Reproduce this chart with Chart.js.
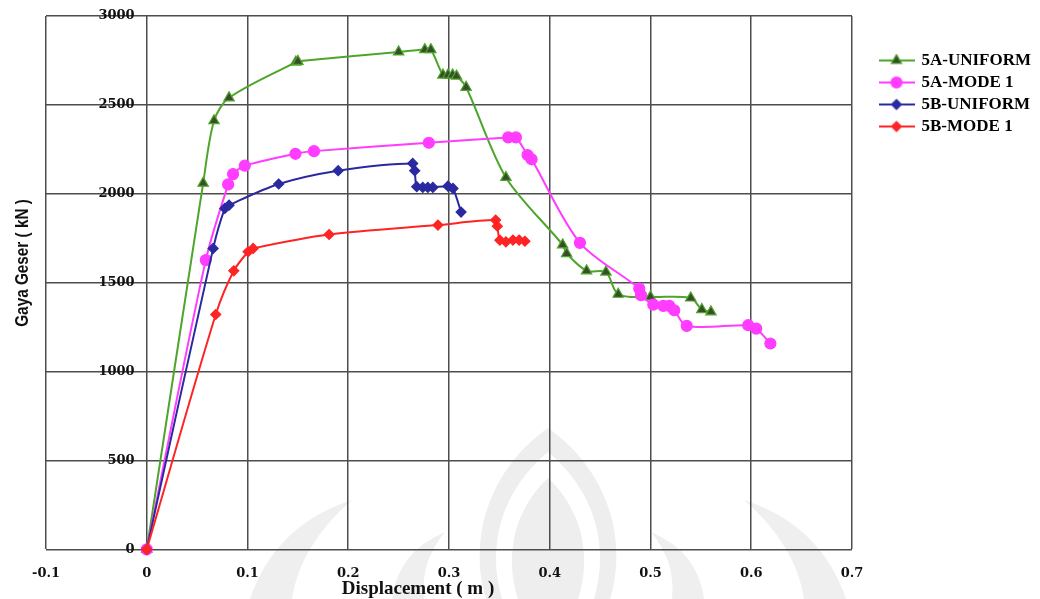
<!DOCTYPE html>
<html>
<head>
<meta charset="utf-8">
<script src="https://cdn.jsdelivr.net/npm/chart.js@4/dist/chart.umd.min.js"></script>
<style>
  html, body { margin: 0; padding: 0; background: #ffffff; }
  #wrap { width: 1040px; height: 599px; }
</style>
</head>
<body>
<div id="wrap"><canvas id="c" width="1040" height="599"></canvas></div>
<script>
// Series names
const seriesNames = ['5A-UNIFORM', '5A-MODE 1', '5B-UNIFORM', '5B-MODE 1'];

// 5A-UNIFORM : displacement (m) / shear force (kN)
const dispA_uniform  = [0, 0.056, 0.0668, 0.0817, 0.148, 0.150, 0.250, 0.276, 0.282, 0.294, 0.299, 0.3036, 0.3075, 0.317, 0.3565, 0.4128, 0.4168, 0.4366, 0.4558, 0.468, 0.500, 0.540, 0.551, 0.560];
const forceA_uniform = [0, 2060, 2411, 2540, 2741, 2745, 2798, 2811, 2811, 2668, 2668, 2668, 2662, 2599, 2092, 1713, 1664, 1567, 1560, 1435, 1420, 1414, 1349, 1336];

// 5A-MODE 1
const dispA_mode1  = [0, 0.0586, 0.0808, 0.0857, 0.0973, 0.1476, 0.166, 0.280, 0.3588, 0.3664, 0.378, 0.382, 0.430, 0.4889, 0.4906, 0.5028, 0.5127, 0.5187, 0.5236, 0.536, 0.597, 0.605, 0.619];
const forceA_mode1 = [0, 1627, 2053, 2111, 2158, 2225, 2240, 2287, 2317, 2317, 2218, 2194, 1724, 1467, 1430, 1377, 1370, 1370, 1345, 1257, 1261, 1242, 1158];

// 5B-UNIFORM
const dispB_uniform  = [0, 0.0659, 0.0775, 0.0817, 0.131, 0.190, 0.264, 0.266, 0.268, 0.274, 0.279, 0.284, 0.299, 0.304, 0.312];
const forceB_uniform = [0, 1693, 1918, 1936, 2055, 2130, 2171, 2130, 2040, 2036, 2036, 2036, 2043, 2030, 1897];

// 5B-MODE 1
const dispB_mode1  = [0, 0.0685, 0.0864, 0.1006, 0.1056, 0.181, 0.289, 0.3463, 0.348, 0.3505, 0.3565, 0.3635, 0.3697, 0.3754];
const forceB_mode1 = [0, 1321, 1567, 1674, 1693, 1771, 1824, 1852, 1818, 1739, 1730, 1740, 1740, 1733];

// Axis tick labels
const xTickLabels = ['-0.1', '0', '0.1', '0.2', '0.3', '0.4', '0.5', '0.6', '0.7'];
const yTickLabels = ['0', '500', '1000', '1500', '2000', '2500', '3000'];

const toPoints = (xs, ys) => xs.map((x, i) => ({ x: x, y: ys[i] }));

const styles = [
  { line: '#4ea52c', fill: '#3a4d2a', shape: 'triangle', r: 6 },
  { line: '#ff3cff', fill: '#ff3cff', shape: 'circle',   r: 5.5 },
  { line: '#2a2aa0', fill: '#2a2aa0', shape: 'rectRot',  r: 5 },
  { line: '#ff2424', fill: '#ff2424', shape: 'rectRot',  r: 5 }
];

const seriesData = [
  toPoints(dispA_uniform, forceA_uniform),
  toPoints(dispA_mode1, forceA_mode1),
  toPoints(dispB_uniform, forceB_uniform),
  toPoints(dispB_mode1, forceB_mode1)
];

// Small line+marker swatches for the legend
function makeIcon(st) {
  const cv = document.createElement('canvas');
  cv.width = 36; cv.height = 14;
  const g = cv.getContext('2d');
  g.strokeStyle = st.line; g.lineWidth = 2.2;
  g.beginPath(); g.moveTo(0, 7); g.lineTo(36, 7); g.stroke();
  g.fillStyle = st.fill; g.strokeStyle = st.line; g.lineWidth = 1.2;
  g.beginPath();
  const cx = 18, cy = 7, r = st.r;
  if (st.shape === 'triangle') {
    g.moveTo(cx, cy - r); g.lineTo(cx + 0.866 * r, cy + 0.5 * r); g.lineTo(cx - 0.866 * r, cy + 0.5 * r);
  } else if (st.shape === 'circle') {
    g.arc(cx, cy, r, 0, Math.PI * 2);
  } else {
    g.moveTo(cx - r, cy); g.lineTo(cx, cy - r); g.lineTo(cx + r, cy); g.lineTo(cx, cy + r);
  }
  g.closePath(); g.fill(); g.stroke();
  return cv;
}
const legendIcons = styles.map(makeIcon);

const gridColor = '#4d4d4d';
const tickFont = { family: "'DejaVu Serif', serif", size: 13, weight: 'bold' };

// Faint emblem printed behind the plot
const emblem = {
  id: 'emblem',
  beforeDraw(chart) {
    const ctx = chart.ctx;
    const cx = 548;
    ctx.save();
    // central flame
    ctx.fillStyle = '#eeeeee';
    ctx.beginPath();
    ctx.moveTo(cx, 428);
    ctx.bezierCurveTo(cx + 60, 470, cx + 80, 540, cx + 62, 599);
    ctx.lineTo(cx - 62, 599);
    ctx.bezierCurveTo(cx - 80, 540, cx - 60, 470, cx, 428);
    ctx.fill();
    ctx.fillStyle = '#ffffff';
    ctx.beginPath();
    ctx.moveTo(cx, 452);
    ctx.bezierCurveTo(cx + 46, 490, cx + 62, 545, cx + 46, 599);
    ctx.lineTo(cx - 46, 599);
    ctx.bezierCurveTo(cx - 62, 545, cx - 46, 490, cx, 452);
    ctx.fill();
    ctx.fillStyle = '#eeeeee';
    ctx.beginPath();
    ctx.moveTo(cx, 478);
    ctx.bezierCurveTo(cx + 34, 510, cx + 44, 555, cx + 30, 599);
    ctx.lineTo(cx - 30, 599);
    ctx.bezierCurveTo(cx - 44, 555, cx - 34, 510, cx, 478);
    ctx.fill();
    // side petals, mirrored about the flame
    [1, -1].forEach(s => {
      const X = x => cx + s * (x - cx);
      ctx.fillStyle = '#efefef';
      ctx.beginPath();
      ctx.moveTo(X(250), 599);
      ctx.quadraticCurveTo(X(275), 525, X(352), 500);
      ctx.quadraticCurveTo(X(300), 545, X(292), 599);
      ctx.closePath();
      ctx.fill();
      ctx.beginPath();
      ctx.moveTo(X(392), 599);
      ctx.quadraticCurveTo(X(398), 552, X(445), 532);
      ctx.quadraticCurveTo(X(420), 562, X(424), 599);
      ctx.closePath();
      ctx.fill();
    });
    ctx.restore();
  }
};

// Moves the legend block to its spot beside the plot
const legendPlacer = {
  id: 'legendPlacer',
  afterLayout(chart) {
    const lg = chart.legend;
    if (!lg) return;
    const dx = 875 - lg.left, dy = 47 - lg.top;
    lg.left += dx; lg.right += dx; lg.top += dy; lg.bottom += dy;
  }
};

// Axis titles
const axisTitles = {
  id: 'axisTitles',
  afterDraw(chart) {
    const ctx = chart.ctx;
    ctx.save();
    ctx.fillStyle = '#111';
    ctx.font = "bold 19px 'Liberation Serif', serif";
    ctx.textAlign = 'center';
    ctx.textBaseline = 'alphabetic';
    ctx.fillText('Displacement ( m )', 418, 594);
    ctx.translate(23, 263);
    ctx.rotate(-Math.PI / 2);
    ctx.scale(0.85, 1);
    ctx.font = "bold 18px 'Liberation Sans', Arial, sans-serif";
    ctx.textBaseline = 'middle';
    ctx.fillText('Gaya Geser ( kN )', 0, 0);
    ctx.restore();
  }
};

new Chart(document.getElementById('c'), {
  type: 'line',
  data: {
    datasets: seriesData.map((pts, i) => ({
      label: seriesNames[i],
      data: pts,
      borderColor: styles[i].line,
      backgroundColor: styles[i].fill,
      borderWidth: 2,
      pointStyle: styles[i].shape,
      pointRadius: styles[i].r,
      pointBackgroundColor: styles[i].fill,
      pointBorderColor: styles[i].line,
      pointBorderWidth: 1.2,
      tension: 0.3,
      fill: false,
      clip: 10,
      order: 3 - i
    }))
  },
  options: {
    responsive: false,
    animation: false,
    devicePixelRatio: 1,
    layout: { padding: { left: 46, top: 16, right: 22, bottom: 2 } },
    scales: {
      x: {
        type: 'linear',
        min: -0.1, max: 0.7,
        border: { display: false },
        grid: { color: gridColor, lineWidth: 1.5, drawTicks: false, tickLength: 0 },
        ticks: {
          stepSize: 0.1,
          padding: 16,
          color: '#111',
          font: tickFont,
          callback: (v, i) => xTickLabels[i]
        }
      },
      y: {
        type: 'linear',
        min: 0, max: 3000,
        position: { x: -0.012 },
        border: { display: false },
        grid: { color: gridColor, lineWidth: 1.5, drawTicks: false, tickLength: 0 },
        ticks: {
          stepSize: 500,
          color: '#111',
          font: tickFont,
          callback: (v, i) => yTickLabels[i]
        }
      }
    },
    plugins: {
      tooltip: { enabled: false },
      legend: {
        position: 'right',
        align: 'start',
        labels: {
          usePointStyle: true,
          pointStyleWidth: 33,
          padding: 5,
          color: '#000',
          font: { family: "'Liberation Serif', serif", size: 17, weight: 'bold' },
          generateLabels: (chart) => chart.data.datasets.map((ds, i) => ({
            text: ds.label,
            pointStyle: legendIcons[i],
            fillStyle: styles[i].fill,
            strokeStyle: styles[i].line,
            lineWidth: 0,
            hidden: false,
            datasetIndex: i,
            fontColor: '#000'
          }))
        }
      }
    }
  },
  plugins: [emblem, legendPlacer, axisTitles]
});
</script>
</body>
</html>
